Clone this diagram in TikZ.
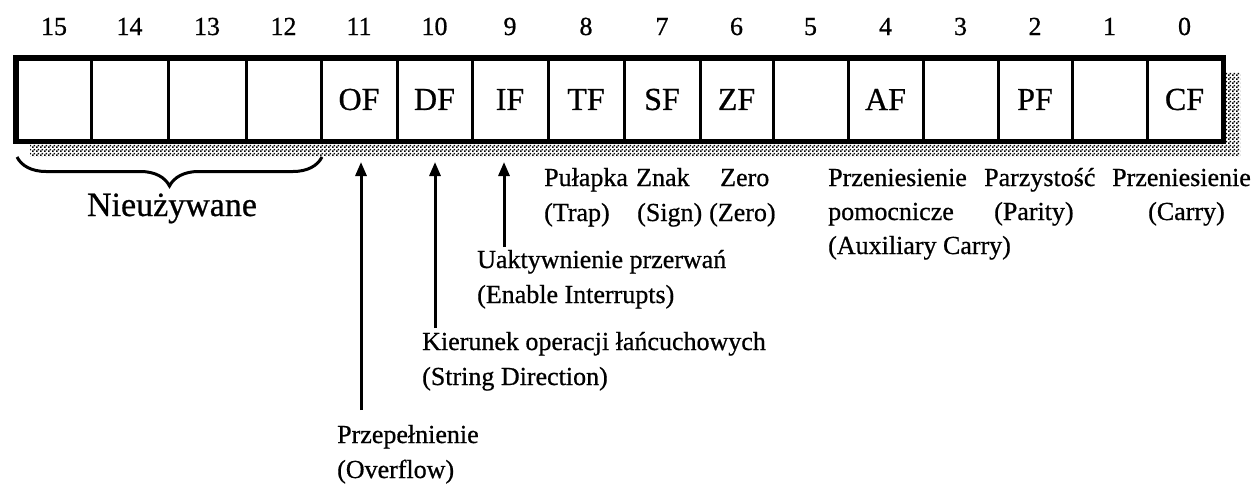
\documentclass[tikz,border=0pt]{standalone}
\usepackage{fontspec}
\setmainfont{Liberation Serif}[FakeBold=0.7]
\usetikzlibrary{decorations.pathreplacing,arrows.meta,patterns.meta}

\tikzdeclarepattern{
  name=halftone, type=uncolored,
  bounding box={(0,0) and (4pt,4pt)},
  tile size={(4pt,4pt)},
  code={\fill (0,0) rectangle (2pt,2pt); \fill (2pt,2pt) rectangle (4pt,4pt);}
}

\tikzset{
  cell/.style={draw, line width=3pt, fill=white, inner sep=0pt, minimum height=81pt,
    font=\fontsize{32}{36}\selectfont},
  bitnum/.style={anchor=base, inner sep=0pt, font=\fontsize{26}{30}\selectfont},
  lbl/.style={anchor=base west, inner sep=0pt, font=\fontsize{26}{32}\selectfont},
  pointer/.style={line width=3pt, -{Triangle[width=11pt,length=14pt]}},
}

\begin{document}
\begin{tikzpicture}[x=1pt, y=-1pt]
  \useasboundingbox (0,0) rectangle (1260,488);

  % shadow behind the register
  \fill[pattern=halftone, pattern color=black] (30,72) rectangle (1240,156);

  % the sixteen bit cells of the flags register
  \foreach \i/\xl/\xr/\t in {15/17/91/, 14/91/168/, 13/168/246/, 12/246/321/,
      11/321/397/OF, 10/397/472/DF, 9/472/548/IF, 8/548/624/TF,
      7/624/700/SF, 6/700/773/ZF, 5/773/848/, 4/848/923/AF,
      3/923/998/, 2/998/1072/PF, 1/1072/1147/, 0/1147/1222/CF} {
    \pgfmathsetmacro{\w}{\xr-\xl}
    \pgfmathsetmacro{\xc}{(\xl+\xr)/2}
    \node[cell, minimum width=\w pt] (c\i) at (\xc,99.5) {\t};
    \node[bitnum] (n\i) at (\xc,35) {\i};
  }
  % heavy outer frame
  \draw[line width=5pt] (c15.north west) rectangle (c0.south east);

  % unused bits
  \coordinate (brL) at (17,157);
  \coordinate (brR) at (322,157);
  \draw[line width=3pt, decorate, decoration={brace, mirror, amplitude=29pt}] (brL) -- (brR);
  \node[anchor=base, inner sep=0pt, font=\fontsize{34}{38}\selectfont] (unused) at (172,216) {Nieużywane};

  % pointers to OF, DF and IF
  \coordinate (OFtail) at (361,410);
  \coordinate (OFhead) at (361,162);
  \coordinate (DFtail) at (435,328);
  \coordinate (DFhead) at (435,162);
  \coordinate (IFtail) at (504,247);
  \coordinate (IFhead) at (504,162);
  \draw[pointer] (OFtail) -- (OFhead);
  \draw[pointer] (DFtail) -- (DFhead);
  \draw[pointer] (IFtail) -- (IFhead);

  % flag descriptions
  \node[lbl] (tfA) at (544,186) {Pułapka};
  \node[lbl] (tfB) at (544,221) {(Trap)};
  \node[lbl] (sfA) at (636,186) {Znak};
  \node[lbl] (sfB) at (637,221) {(Sign)};
  \node[lbl] (zfA) at (720,186) {Zero};
  \node[lbl] (zfB) at (709,221) {(Zero)};
  \node[lbl] (afA) at (828,186) {Przeniesienie};
  \node[lbl] (afB) at (828,220) {pomocnicze};
  \node[lbl] (afC) at (828,254) {(Auxiliary Carry)};
  \node[lbl] (pfA) at (984,186) {Parzystość};
  \node[lbl] (pfB) at (994,220) {(Parity)};
  \node[lbl] (cfA) at (1112,186) {Przeniesienie};
  \node[lbl] (cfB) at (1148,220) {(Carry)};
  \node[lbl] (ifA) at (477,268) {Uaktywnienie przerwań};
  \node[lbl] (ifB) at (477,303) {(Enable Interrupts)};
  \node[lbl] (dfA) at (422,350) {Kierunek operacji łańcuchowych};
  \node[lbl] (dfB) at (422,385) {(String Direction)};
  \node[lbl] (ofA) at (337,443) {Przepełnienie};
  \node[lbl] (ofB) at (337,478) {(Overflow)};
\end{tikzpicture}
\end{document}
